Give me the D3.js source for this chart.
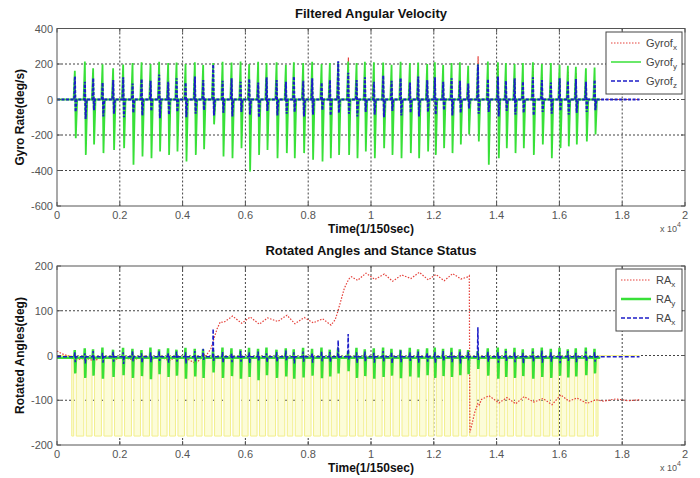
<!DOCTYPE html>
<html>
<head>
<meta charset="utf-8">
<script src="https://cdn.jsdelivr.net/npm/d3@7"></script>
<style>
  body { margin: 0; background: #fff; }
  svg { font-family: "Liberation Sans", Arial, sans-serif; }
</style>
</head>
<body>
<div id="chart"></div>
<script>
// x axis (samples, shown as x10^4)
const xTicks = [0, 2000, 4000, 6000, 8000, 10000, 12000, 14000, 16000, 18000, 20000];
const xTickLabels = ["0", "0.2", "0.4", "0.6", "0.8", "1", "1.2", "1.4", "1.6", "1.8", "2"];
const gyroTicks = [-600, -400, -200, 0, 200, 400];
const angleTicks = [-200, -100, 0, 100, 200];
const recordEnd = 18550;
const walkEnd = 17300;

// step (heel) instants read from the spikes
const stepTimes = [
  573, 892, 1156, 1455, 1793, 2112, 2411, 2698, 2984, 3258,
  3545, 3812, 4099, 4395, 4660, 4978, 5278, 5564, 5851, 6125,
  6411, 6679, 6998, 7294, 7548, 7845, 8131, 8431, 8695, 8959,
  9278, 9545, 9810, 10097, 10393, 10660, 10947, 11243, 11508, 11794,
  12039, 12303, 12571, 12836, 13100, 13409, 13727, 14046, 14300, 14578,
  14842, 15161, 15447, 15734, 16011, 16275, 16530, 16849, 17126
];

// Filtered angular velocity, per step
const gyroYPeak = [
  162, 214, 176, 199, 176, 197, 205, 210, 200, 212,
  205, 208, 200, 210, 195, 205, 212, 208, 214, 200,
  212, 206, 210, 195, 210, 205, 212, 200, 206, 210,
  214, 205, 212, 210, 208, 196, 212, 205, 208, 200,
  210, 195, 206, 210, 190, 200, 214, 210, 205, 200,
  206, 210, 200, 205, 196, 190, 185, 176, 180
];
const gyroYTrough = [
  -218, -312, -254, -302, -284, -274, -368, -321, -331, -293,
  -312, -293, -349, -312, -280, -140, -321, -331, -274, -405,
  -312, -284, -331, -302, -331, -302, -340, -349, -331, -312,
  -312, -331, -293, -331, -274, -312, -331, -302, -331, -293,
  -312, -274, -302, -254, -197, -236, -368, -331, -274, -302,
  -274, -312, -254, -331, -274, -264, -254, -236, -197
];
const gyroZPeak = [
  130, 100, 120, 95, 110, 125, 90, 115, 105, 140,
  100, 120, 95, 130, 110, 197, 105, 120, 100, 115,
  95, 125, 110, 100, 130, 105, 120, 95, 110, 216,
  150, 110, 125, 100, 135, 105, 120, 95, 130, 110,
  125, 100, 120, 105, 90, 197, 115, 130, 105, 120,
  100, 125, 110, 95, 120, 105, 115, 100, 110
];
const gyroZTrough = [
  -70, -110, -60, -95, -80, -100, -75, -90, -65, -105,
  -85, -70, -100, -80, -60, -90, -75, -95, -70, -85,
  -100, -65, -90, -80, -70, -95, -85, -60, -90, -75,
  -80, -95, -70, -85, -100, -65, -90, -75, -95, -70,
  -85, -60, -90, -75, -50, -80, -70, -95, -65, -85,
  -75, -90, -70, -80, -65, -85, -75, -70, -60
];
const gyroXPeak = [
  40, 70, 55, 60, 45, 80, 60, 50, 75, 200,
  150, 60, 70, 55, 65, 90, 50, 70, 60, 45,
  80, 55, 65, 50, 70, 60, 75, 55, 65, 120,
  237, 60, 70, 55, 80, 60, 65, 75, 55, 70,
  60, 65, 55, 70, 80, 244, 90, 188, 70, 120,
  100, 188, 140, 110, 120, 160, 150, 90, 80
];
const gyroXTrough = [
  -40, -60, -50, -55, -45, -65, -50, -60, -45, -70,
  -90, -50, -60, -45, -55, -80, -50, -60, -55, -45,
  -70, -50, -60, -45, -65, -55, -60, -50, -55, -80,
  -90, -50, -60, -45, -70, -55, -60, -65, -50, -60,
  -55, -60, -50, -65, -70, -100, -60, -80, -55, -70,
  -60, -80, -65, -60, -70, -75, -65, -55, -50
];

// Rotated angles, per step
const raYRest = -5;
const raYPeak = [
  12, 16, 14, 18, 13, 17, 15, 12, 18, 14,
  16, 13, 17, 15, 14, 12, 18, 16, 14, 17,
  15, 18, 13, 16, 14, 17, 15, 18, 13, 16,
  10, 17, 14, 16, 18, 15, 13, 17, 14, 16,
  18, 15, 17, 14, 12, 10, 16, 18, 15, 17,
  14, 16, 18, 15, 17, 14, 16, 18, 15
];
const raYTrough = [
  -40, -50, -45, -52, -48, -44, -50, -46, -53, -42,
  -48, -45, -52, -47, -50, -38, -50, -46, -52, -48,
  -55, -44, -50, -47, -52, -49, -45, -51, -47, -40,
  -35, -50, -46, -52, -48, -45, -51, -47, -49, -44,
  -50, -46, -48, -44, -42, -30, -45, -52, -48, -50,
  -46, -52, -48, -50, -45, -49, -47, -44, -40
];
const raZRest = -3;
const raZPeak = [
  8, 5, 10, 6, 9, 7, 11, 5, 8, 10,
  6, 9, 7, 10, 15, 60, 8, 6, 10, 7,
  9, 5, 8, 11, 7, 9, 6, 10, 8, 34,
  48, 7, 9, 6, 10, 8, 11, 7, 9, 6,
  8, 10, 7, 9, 8, 63, 9, 7, 10, 8,
  6, 9, 11, 7, 8, 10, 6, 9, 8
];
const raZTrough = [
  -15, -18, -12, -16, -14, -19, -13, -17, -15, -12,
  -16, -14, -18, -13, -10, -12, -17, -15, -14, -18,
  -13, -16, -15, -12, -18, -14, -16, -13, -15, -8,
  -10, -17, -14, -16, -13, -18, -15, -12, -16, -14,
  -17, -13, -15, -18, -6, -10, -14, -16, -12, -15,
  -18, -13, -16, -14, -17, -12, -15, -13, -14
];
// RAx just after each step
const raXStep = [
  -10, -6, -12, -2, -9, -4, -11, 0, -8, -3,
  -12, -1, -7, -18, 2, 40, 74, 88, 72, 86,
  70, 84, 76, 90, 71, 85, 73, 82, 68, 110,
  172, 168, 184, 170, 182, 166, 180, 172, 186, 169,
  181, 167, 183, 171, 178, -112, -90, -106, -94, -108,
  -92, -104, -96, -110, -88, -102, -95, -107, -99
];
// RAx trend points (turns and wrap-around)
const raXKeyT = [0, 150, 450, 4720, 4800, 4900, 5100, 5200, 8860, 8950, 9050, 9150, 9250, 9380,
  13105, 13150, 13200, 13300, 13400, 13520, 17400, 17800, 18200, 18550];
const raXKeyV = [10, 4, -3, -3, 5, 15, 60, 75, 80, 100, 125, 150, 165, 176,
  176, -172, -158, -128, -108, -98, -102, -97, -101, -99];
// stance status
const stanceStart = 470;
const stanceEnd = 17230;
const stanceLow = -180;

// ---------------------------------------------------------------
const width = 700;
const height = 478;
const svg = d3.select('#chart').append('svg')
  .attr('width', width)
  .attr('height', height);

const x = d3.scaleLinear().domain([0, 20000]).range([57, 685]);

// one point list of spikes built from the per-step arrays
function spikes(offsets, cols, end, rest) {
  const pts = [[0, rest]];
  stepTimes.forEach((t, i) => {
    offsets.forEach((o, k) => {
      const c = cols[k];
      pts.push([t + o, Array.isArray(c) ? c[i] : c]);
    });
  });
  pts.push([end, rest]);
  return pts;
}

const colRed = '#e5403a', colGreen = '#38e038', colBlue = '#1c1cc8';

function drawPanel(cfg) {
  const y = d3.scaleLinear().domain(cfg.domain).range([cfg.bottom, cfg.top]);
  const g = svg.append('g');
  const clipId = 'clip' + cfg.id;
  g.append('clipPath').attr('id', clipId).append('rect')
    .attr('x', x(0)).attr('y', cfg.top)
    .attr('width', x(20000) - x(0)).attr('height', cfg.bottom - cfg.top);

  // grid
  g.selectAll('.vg').data(xTicks.slice(1, -1)).enter().append('line')
    .attr('x1', d => x(d)).attr('x2', d => x(d))
    .attr('y1', cfg.top).attr('y2', cfg.bottom)
    .attr('stroke', '#111').attr('stroke-width', 0.8).attr('stroke-dasharray', '2,2');
  g.selectAll('.hg').data(cfg.ticks.slice(1, -1)).enter().append('line')
    .attr('x1', x(0)).attr('x2', x(20000))
    .attr('y1', d => y(d)).attr('y2', d => y(d))
    .attr('stroke', '#111').attr('stroke-width', 0.8).attr('stroke-dasharray', '2,2');

  const line = d3.line().x(d => x(d[0])).y(d => y(d[1]));
  const plot = g.append('g').attr('clip-path', 'url(#' + clipId + ')');
  cfg.draw(plot, line, y);

  // box
  g.append('rect')
    .attr('x', x(0)).attr('y', cfg.top)
    .attr('width', x(20000) - x(0)).attr('height', cfg.bottom - cfg.top)
    .attr('fill', 'none').attr('stroke', '#555').attr('stroke-width', 1);

  // inward ticks
  xTicks.forEach(d => {
    g.append('line').attr('x1', x(d)).attr('x2', x(d)).attr('y1', cfg.bottom).attr('y2', cfg.bottom - 4).attr('stroke', '#555');
    g.append('line').attr('x1', x(d)).attr('x2', x(d)).attr('y1', cfg.top).attr('y2', cfg.top + 4).attr('stroke', '#555');
  });
  cfg.ticks.forEach(d => {
    g.append('line').attr('x1', x(0)).attr('x2', x(0) + 4).attr('y1', y(d)).attr('y2', y(d)).attr('stroke', '#555');
    g.append('line').attr('x1', x(20000)).attr('x2', x(20000) - 4).attr('y1', y(d)).attr('y2', y(d)).attr('stroke', '#555');
  });

  // tick labels
  g.selectAll('.xl').data(xTicks).enter().append('text')
    .attr('x', d => x(d)).attr('y', cfg.bottom + 13)
    .attr('text-anchor', 'middle').attr('font-size', 11).attr('fill', '#555')
    .text((d, i) => xTickLabels[i]);
  g.selectAll('.yl').data(cfg.ticks).enter().append('text')
    .attr('x', x(0) - 4).attr('y', d => y(d) + 4)
    .attr('text-anchor', 'end').attr('font-size', 11).attr('fill', '#555')
    .text(d => d);

  // exponent
  const ex = g.append('text').attr('x', 660).attr('y', cfg.bottom + 26)
    .attr('font-size', 9).attr('fill', '#555').text('x 10');
  ex.append('tspan').attr('dy', -5).attr('font-size', 7).text('4');

  // titles
  g.append('text').attr('x', 371).attr('y', cfg.top - 11)
    .attr('text-anchor', 'middle').attr('font-size', 13).attr('font-weight', 'bold')
    .attr('fill', '#111').text(cfg.title);
  g.append('text').attr('x', 371).attr('y', cfg.bottom + 27)
    .attr('text-anchor', 'middle').attr('font-size', 12).attr('font-weight', 'bold')
    .attr('fill', '#111').text('Time(1/150sec)');
  g.append('text')
    .attr('transform', 'translate(24,' + ((cfg.top + cfg.bottom) / 2) + ') rotate(-90)')
    .attr('text-anchor', 'middle').attr('font-size', 12).attr('font-weight', 'bold')
    .attr('fill', '#111').text(cfg.ylabel);

  // legend
  const lg = g.append('g');
  lg.append('rect').attr('x', cfg.legend.x).attr('y', cfg.legend.y)
    .attr('width', cfg.legend.w).attr('height', 62)
    .attr('fill', '#fff').attr('stroke', '#444').attr('stroke-width', 1);
  cfg.legend.items.forEach((it, i) => {
    const ly = cfg.legend.y + 11 + i * 19;
    lg.append('line')
      .attr('x1', cfg.legend.x + 5).attr('x2', cfg.legend.x + 35)
      .attr('y1', ly).attr('y2', ly)
      .attr('stroke', it.color).attr('stroke-width', it.width)
      .attr('stroke-dasharray', it.dash);
    const t = lg.append('text').attr('x', cfg.legend.x + 40).attr('y', ly + 4)
      .attr('font-size', 11).attr('fill', '#444').text(it.name);
    t.append('tspan').attr('dy', 3).attr('font-size', 8).text(it.sub);
  });
}

// ---- top panel
drawPanel({
  id: 'a', top: 28.5, bottom: 206, domain: [-600, 400], ticks: gyroTicks,
  title: 'Filtered Angular Velocity', ylabel: 'Gyro Rate(deg/s)',
  legend: {
    x: 606, y: 32, w: 76,
    items: [
      { name: 'Gyrof', sub: 'x', color: colRed, width: 1, dash: '1.5,1.5' },
      { name: 'Gyrof', sub: 'y', color: colGreen, width: 1.5, dash: null },
      { name: 'Gyrof', sub: 'z', color: colBlue, width: 1.5, dash: '4,2' }
    ]
  },
  draw: (p, line) => {
    p.append('path').attr('d', line(spikes([-20, 2, 22, 50], [0, gyroXPeak, gyroXTrough, 0], recordEnd, 0)))
      .attr('fill', 'none').attr('stroke', colRed).attr('stroke-width', 1.2).attr('stroke-dasharray', '1.5,1.5');
    p.append('path').attr('d', line(spikes([-45, -5, 25, 70], [0, gyroYPeak, gyroYTrough, 0], walkEnd, 0)))
      .attr('fill', 'none').attr('stroke', colGreen).attr('stroke-width', 1.8);
    p.append('path').attr('d', line(spikes([-25, -3, 20, 50], [0, gyroZPeak, gyroZTrough, 0], recordEnd, 0)))
      .attr('fill', 'none').attr('stroke', colBlue).attr('stroke-width', 2).attr('stroke-dasharray', '3,1.5');
  }
});

// ---- bottom panel
drawPanel({
  id: 'b', top: 266, bottom: 445, domain: [-200, 200], ticks: angleTicks,
  title: 'Rotated Angles and Stance Status', ylabel: 'Rotated Angles(deg)',
  legend: {
    x: 616, y: 269, w: 66,
    items: [
      { name: 'RA', sub: 'x', color: colRed, width: 1, dash: '1.5,1.5' },
      { name: 'RA', sub: 'y', color: colGreen, width: 2.5, dash: null },
      { name: 'RA', sub: 'x', color: colBlue, width: 1.5, dash: '4,2' }
    ]
  },
  draw: (p, line, y) => {
    // stance status: low while the foot is on the ground
    const last = stepTimes.length - 1;
    const iv = [[stanceStart, stepTimes[0] - 40]];
    for (let i = 0; i < last; i++) iv.push([stepTimes[i] + 40, stepTimes[i + 1] - 40]);
    iv.push([stepTimes[last] + 40, stanceEnd]);
    p.selectAll('.st').data(iv).enter().append('rect')
      .attr('x', d => x(d[0])).attr('width', d => x(d[1]) - x(d[0]))
      .attr('y', y(0)).attr('height', y(stanceLow) - y(0))
      .attr('fill', '#fcfcd8');
    const sq = [[0, 0]];
    iv.forEach(d => { sq.push([d[0], 0], [d[0], stanceLow], [d[1], stanceLow], [d[1], 0]); });
    sq.push([recordEnd, 0]);
    p.append('path').attr('d', line(sq))
      .attr('fill', 'none').attr('stroke', '#f2ef8c').attr('stroke-width', 1);

    // RAx
    const rx = raXKeyT.map((t, i) => [t, raXKeyV[i]])
      .concat(stepTimes.map((t, i) => [t + 30, raXStep[i]]))
      .sort((a, b) => a[0] - b[0]);
    p.append('path').attr('d', line(rx))
      .attr('fill', 'none').attr('stroke', colRed).attr('stroke-width', 1.2).attr('stroke-dasharray', '1.5,1.5');
    p.append('path').attr('d', line(spikes([-25, -8, 8, 30], [raYRest, raYPeak, raYTrough, raYRest], walkEnd, raYRest)))
      .attr('fill', 'none').attr('stroke', colGreen).attr('stroke-width', 2.5);
    p.append('path').attr('d', line(spikes([-20, -5, 10, 30], [raZRest, raZPeak, raZTrough, raZRest], recordEnd, raZRest)))
      .attr('fill', 'none').attr('stroke', colBlue).attr('stroke-width', 1.5).attr('stroke-dasharray', '4,2');
  }
});
</script>
</body>
</html>
